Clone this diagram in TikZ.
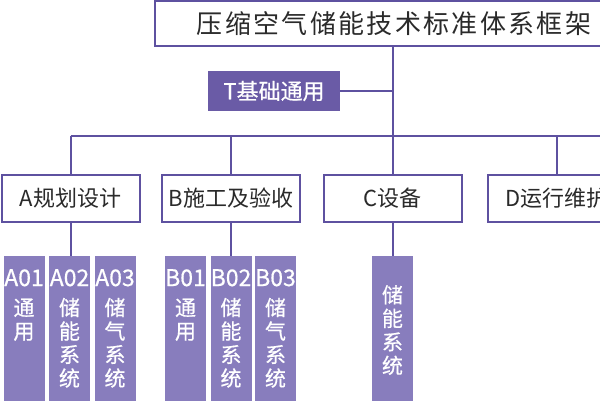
\documentclass[tikz,border=0pt]{standalone}
\usepackage{fontspec}
\newfontfamily\cjk{Noto Sans CJK SC}
\newfontfamily\cjkb[FakeBold=0.6]{Noto Sans CJK SC}
\newfontfamily\cjktitle[LetterSpace=9]{Noto Sans CJK SC}
\definecolor{linec}{HTML}{5E51A0}
\definecolor{tfill}{HTML}{6A5BA6}
\definecolor{sfill}{HTML}{887DBD}
\definecolor{txt}{HTML}{2A2A2A}
\newcommand{\lbl}[1]{{\fontsize{23}{23.5}\selectfont #1}}
\tikzset{
  conn/.style={draw=linec, line width=2pt},
  titlebox/.style={draw=linec, line width=2.2pt, fill=white, minimum width=478pt, minimum height=45pt, inner sep=0pt, font=\cjktitle\fontsize{26}{30}\selectfont, text=txt},
  tbox/.style={fill=tfill, minimum width=132pt, minimum height=40pt, inner sep=0pt, font=\cjkb\fontsize{22}{26}\selectfont, text=white},
  catbox/.style={draw=linec, line width=2pt, fill=white, minimum width=138pt, minimum height=47pt, inner sep=0pt, font=\cjk\fontsize{22}{26}\selectfont, text=txt},
  subbox/.style={fill=sfill, minimum width=41pt, minimum height=150pt, inner sep=0pt, anchor=north},
  subtext/.style={anchor=north, inner sep=0pt, align=center, text=white, font=\cjkb\fontsize{21}{23.5}\selectfont}
}
\begin{document}
\begin{tikzpicture}[x=1pt,y=-1pt]
\useasboundingbox (0,0) rectangle (600,400);
\clip (0,0) rectangle (600,400);
% title
\node[titlebox] (title) at (394,23.5) {压缩空气储能技术标准体系框架};
% T box
\node[tbox] (tb) at (274,91) {T基础通用};
% category boxes
\node[catbox] (ca) at (70.5,198.5) {A规划设计};
\node[catbox] (cb) at (231,198.5) {B施工及验收};
\node[catbox] (cc) at (392.5,198.5) {C设备};
\node[catbox] (cd) at (557,198.5) {D运行维护};
% bus coordinates
\coordinate (busL) at (70.5,136);
\coordinate (busR) at (640,136);
% sub boxes
\node[subbox] (a01) at (24,256) {};
\node[subbox] (a02) at (69.5,256) {};
\node[subbox] (a03) at (115,256) {};
\node[subbox] (b01) at (185.5,256) {};
\node[subbox] (b02) at (231,256) {};
\node[subbox] (b03) at (275.5,256) {};
\node[subbox] (c01) at (392.5,256) {};
% sub texts
\node[subtext] (a01t) at (24,269) {\lbl{A01}\\[6pt]通\\用};
\node[subtext] (a02t) at (69.5,269) {\lbl{A02}\\[6pt]储\\能\\系\\统};
\node[subtext] (a03t) at (115,269) {\lbl{A03}\\[6pt]储\\气\\系\\统};
\node[subtext] (b01t) at (185.5,269) {\lbl{B01}\\[6pt]通\\用};
\node[subtext] (b02t) at (231,269) {\lbl{B02}\\[6pt]储\\能\\系\\统};
\node[subtext] (b03t) at (275.5,269) {\lbl{B03}\\[6pt]储\\气\\系\\统};
\node[subtext] (c01t) at (392.5,285) {储\\能\\系\\统};
% connectors
\draw[conn] (title.south -| cc.north) -- (cc.north);
\draw[conn] (tb.east) -- (tb.east -| cc.north);
\draw[conn] (busL) -- (busR);
\draw[conn] (ca.north) -- (ca.north |- busL);
\draw[conn] (cb.north) -- (cb.north |- busL);
\draw[conn] (cd.north) -- (cd.north |- busL);
\draw[conn] (ca.south) -- (ca.south |- a02.north);
\draw[conn] (cb.south) -- (b02.north);
\draw[conn] (cc.south) -- (c01.north);
\end{tikzpicture}
\end{document}
